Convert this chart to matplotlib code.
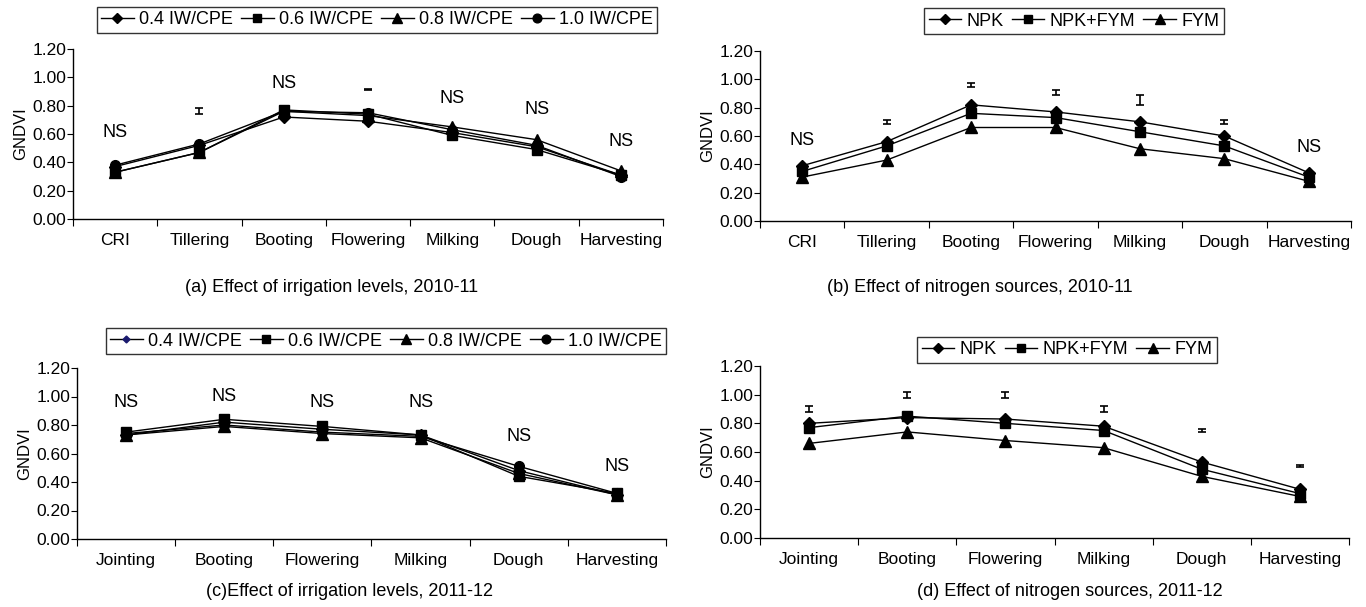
import matplotlib
matplotlib.use("Agg")
import matplotlib.pyplot as plt
from matplotlib.lines import Line2D

plt.rcParams['font.family'] = ['Liberation Sans', 'DejaVu Sans']

# growth stages
stages_1011 = ['CRI', 'Tillering', 'Booting', 'Flowering', 'Milking', 'Dough', 'Harvesting']
stages_1112 = ['Jointing', 'Booting', 'Flowering', 'Milking', 'Dough', 'Harvesting']

irr_labels = ['0.4 IW/CPE', '0.6 IW/CPE', '0.8 IW/CPE', '1.0 IW/CPE']
nit_labels = ['NPK', 'NPK+FYM', 'FYM']

# (a) irrigation levels, 2010-11
irr_1011 = [
    [0.37, 0.52, 0.72, 0.69, 0.61, 0.51, 0.31],
    [0.33, 0.47, 0.77, 0.74, 0.59, 0.49, 0.31],
    [0.33, 0.47, 0.76, 0.73, 0.65, 0.56, 0.34],
    [0.38, 0.53, 0.76, 0.75, 0.63, 0.52, 0.30],
]
# (b) nitrogen sources, 2010-11
nit_1011 = [
    [0.39, 0.56, 0.82, 0.77, 0.70, 0.60, 0.34],
    [0.35, 0.53, 0.76, 0.73, 0.63, 0.53, 0.31],
    [0.31, 0.43, 0.66, 0.66, 0.51, 0.44, 0.28],
]
# (c) irrigation levels, 2011-12
irr_1112 = [
    [0.73, 0.82, 0.77, 0.73, 0.48, 0.31],
    [0.75, 0.84, 0.79, 0.73, 0.44, 0.32],
    [0.73, 0.79, 0.74, 0.71, 0.46, 0.31],
    [0.74, 0.80, 0.75, 0.72, 0.51, 0.32],
]
# (d) nitrogen sources, 2011-12
nit_1112 = [
    [0.80, 0.84, 0.83, 0.78, 0.53, 0.34],
    [0.77, 0.85, 0.80, 0.75, 0.48, 0.31],
    [0.66, 0.74, 0.68, 0.63, 0.43, 0.29],
]

# significance marks: (stage index, y, half-height of CD bar or None for "NS")
marks_a = [(0, 0.61, None), (1, 0.762, 0.022), (2, 0.96, None), (3, 0.916, 0.003),
           (4, 0.85, None), (5, 0.775, None), (6, 0.55, None)]
marks_b = [(0, 0.565, None), (1, 0.70, 0.015), (2, 0.958, 0.015), (3, 0.906, 0.02),
           (4, 0.852, 0.036), (5, 0.70, 0.015), (6, 0.522, None)]
marks_c = [(0, 0.955, None), (1, 1.0, None), (2, 0.955, None), (3, 0.955, None),
           (4, 0.72, None), (5, 0.51, None)]
marks_d = [(0, 0.90, 0.022), (1, 0.998, 0.022), (2, 0.998, 0.022), (3, 0.90, 0.022),
           (4, 0.75, 0.008), (5, 0.504, 0.006)]

irr_markers = [('D', 6), ('s', 7), ('^', 8), ('o', 7)]
nit_markers = [('D', 6), ('s', 7), ('^', 8)]

W, H = 1366, 607
fig = plt.figure(figsize=(W / 100, H / 100), dpi=100)


def panel(box, stages, series, labels, markers, marks, caption, cap_xy, leg_center,
          leg_markers=None):
    x0, y_top, x1, y_bot = box
    ax = fig.add_axes([x0 / W, 1 - y_bot / H, (x1 - x0) / W, (y_bot - y_top) / H])
    x = list(range(len(stages)))
    for vals, (m, ms) in zip(series, markers):
        ax.plot(x, vals, color='black', lw=1.0, marker=m, ms=ms,
                mfc='black', mec='black')
    for i, y, h in marks:
        if h is None:
            ax.text(i, y, 'NS', ha='center', va='center', fontsize=13)
        else:
            ax.errorbar(i, y, yerr=h, fmt='none', ecolor='black',
                        elinewidth=1.2, capsize=3, capthick=1.2)
    ax.set_xlim(-0.5, len(stages) - 0.5)
    ax.set_ylim(0, 1.2)
    ax.set_yticks([0, 0.2, 0.4, 0.6, 0.8, 1.0, 1.2])
    ax.set_yticklabels([f'{v:.2f}' for v in ax.get_yticks()], fontsize=12.5)
    ax.set_xticks([i - 0.5 for i in range(len(stages) + 1)])
    ax.set_xticklabels([])
    ax.set_xticks(x, minor=True)
    ax.set_xticklabels(stages, minor=True, fontsize=12.5)
    ax.tick_params(axis='x', which='minor', length=0, pad=10)
    ax.tick_params(axis='x', which='major', length=5, direction='out')
    ax.tick_params(axis='y', length=4, direction='out', pad=1)
    for s in ['top', 'right']:
        ax.spines[s].set_visible(False)
    ax.spines['left'].set_linewidth(1.0)
    ax.spines['bottom'].set_linewidth(1.0)
    ax.set_ylabel('GNDVI', fontsize=12, labelpad=3)

    if leg_markers is None:
        leg_markers = [(m, ms * 0.9, 'black') for m, ms in markers]
    handles = [Line2D([], [], color='black', lw=1.0, marker=m, ms=ms,
                      mfc=c, mec=c) for m, ms, c in leg_markers]
    leg = fig.legend(handles, labels, loc='center', ncol=len(labels),
                     bbox_to_anchor=(leg_center[0] / W, 1 - leg_center[1] / H),
                     fontsize=13, frameon=True, fancybox=False, edgecolor='black',
                     handlelength=1.8, handletextpad=0.3, columnspacing=0.45,
                     borderpad=0.25, borderaxespad=0)
    leg.get_frame().set_linewidth(1.0)

    fig.text(cap_xy[0] / W, 1 - cap_xy[1] / H, caption, ha='center', va='center',
             fontsize=13)
    return ax


panel((73, 49, 663, 219), stages_1011, irr_1011, irr_labels, irr_markers, marks_a,
      '(a) Effect of irrigation levels, 2010-11', (332, 288), (377, 20))
panel((760, 51, 1351, 221), stages_1011, nit_1011, nit_labels, nit_markers, marks_b,
      '(b) Effect of nitrogen sources, 2010-11', (980, 288), (1074, 21))
panel((77, 368, 666, 539), stages_1112, irr_1112, irr_labels, irr_markers, marks_c,
      '(c)Effect of irrigation levels, 2011-12', (350, 591), (386, 341),
      leg_markers=[('D', 3.5, '#1a1a6e'), ('s', 6.3, 'black'),
                   ('^', 7.2, 'black'), ('o', 6.3, 'black')])
panel((760, 366, 1349, 538), stages_1112, nit_1112, nit_labels, nit_markers, marks_d,
      '(d) Effect of nitrogen sources, 2011-12', (1070, 591), (1067, 350))

fig.savefig('out.png', dpi=100, facecolor='white')
